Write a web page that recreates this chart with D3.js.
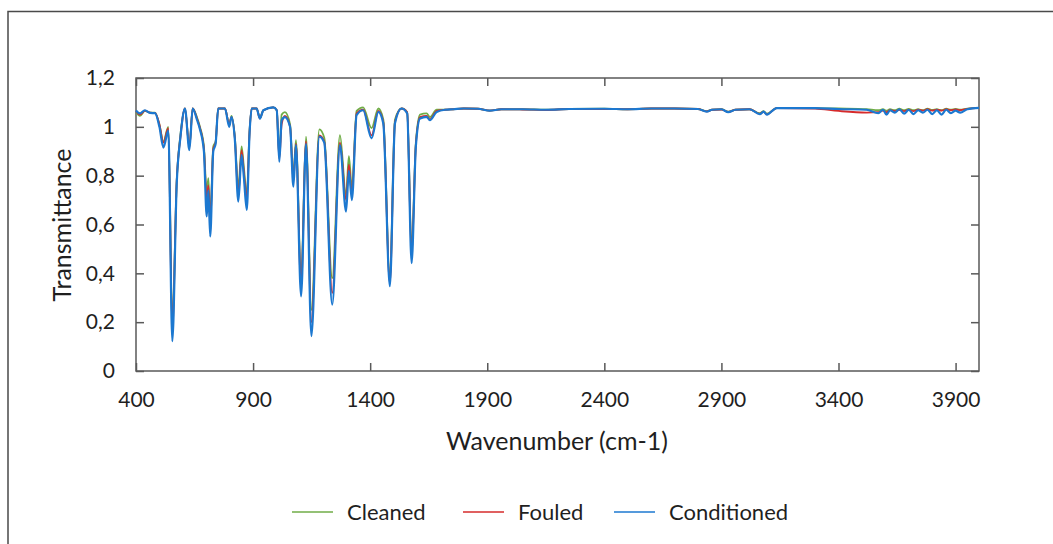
<!DOCTYPE html>
<html>
<head>
<meta charset="utf-8">
<script src="https://cdn.jsdelivr.net/npm/d3@7"></script>
<style>
  body { margin: 0; background: #fff; }
  text { font-family: Lato, "Open Sans", sans-serif; fill: #1f1f1f; }
</style>
</head>
<body>
<script>
// wavenumbers (cm-1) shared by the three spectra
var wavenumbers = [400, 417, 438, 460, 481, 500, 517, 538, 555, 574, 590, 609, 628, 642, 660, 673, 690, 702, 709, 717, 730, 740, 751, 780, 798, 808, 822, 837, 851, 861, 873, 885, 894, 915, 929, 944, 986, 1001, 1012, 1022, 1036, 1058, 1072, 1083, 1105, 1126, 1149, 1183, 1204, 1238, 1271, 1297, 1309, 1322, 1342, 1370, 1406, 1435, 1456, 1484, 1506, 1534, 1558, 1577, 1595, 1613, 1641, 1655, 1684, 1720, 1755, 1800, 1860, 1911, 1960, 2050, 2150, 2250, 2400, 2500, 2600, 2700, 2800, 2837, 2860, 2900, 2929, 2960, 3020, 3064, 3080, 3094, 3136, 3300, 3400, 3520, 3570, 3590, 3605, 3620, 3640, 3660, 3680, 3700, 3720, 3740, 3760, 3780, 3800, 3820, 3840, 3860, 3880, 3900, 3920, 3950, 4000]

var cleaned = [1.060, 1.045, 1.065, 1.058, 1.058, 1.010, 0.940, 1.000, 0.200, 0.780, 0.970, 1.075, 0.920, 1.075, 1.040, 1.000, 0.920, 0.730, 0.790, 0.620, 0.920, 0.940, 1.075, 1.075, 1.010, 1.045, 0.960, 0.750, 0.920, 0.830, 0.720, 0.985, 1.075, 1.075, 1.036, 1.068, 1.080, 1.068, 0.880, 1.050, 1.060, 1.010, 0.800, 0.945, 0.380, 0.960, 0.250, 0.990, 0.955, 0.380, 0.966, 0.720, 0.880, 0.750, 1.065, 1.080, 0.995, 1.075, 1.030, 0.380, 1.030, 1.075, 1.060, 0.500, 0.935, 1.050, 1.055, 1.040, 1.070, 1.070, 1.072, 1.075, 1.074, 1.066, 1.072, 1.072, 1.070, 1.073, 1.074, 1.072, 1.075, 1.075, 1.073, 1.064, 1.070, 1.072, 1.062, 1.070, 1.072, 1.056, 1.064, 1.054, 1.077, 1.077, 1.075, 1.072, 1.068, 1.072, 1.066, 1.072, 1.068, 1.074, 1.068, 1.073, 1.068, 1.072, 1.068, 1.074, 1.069, 1.072, 1.068, 1.074, 1.070, 1.073, 1.070, 1.075, 1.078]

var fouled = [1.065, 1.050, 1.066, 1.058, 1.057, 1.010, 0.935, 0.995, 0.170, 0.780, 0.960, 1.075, 0.915, 1.075, 1.035, 0.995, 0.910, 0.700, 0.760, 0.600, 0.910, 0.935, 1.075, 1.075, 1.010, 1.040, 0.955, 0.720, 0.905, 0.810, 0.700, 0.980, 1.075, 1.075, 1.034, 1.068, 1.080, 1.068, 0.870, 1.010, 1.045, 1.000, 0.780, 0.930, 0.350, 0.940, 0.200, 0.965, 0.940, 0.320, 0.935, 0.700, 0.845, 0.720, 1.055, 1.070, 0.965, 1.065, 1.020, 0.360, 1.020, 1.075, 1.060, 0.470, 0.925, 1.040, 1.045, 1.030, 1.065, 1.070, 1.072, 1.075, 1.074, 1.066, 1.072, 1.071, 1.069, 1.073, 1.073, 1.072, 1.075, 1.075, 1.073, 1.063, 1.070, 1.071, 1.061, 1.070, 1.072, 1.053, 1.062, 1.051, 1.077, 1.075, 1.065, 1.058, 1.060, 1.066, 1.060, 1.068, 1.064, 1.070, 1.064, 1.070, 1.064, 1.070, 1.066, 1.072, 1.066, 1.070, 1.066, 1.072, 1.068, 1.071, 1.068, 1.074, 1.078]

var conditioned = [1.067, 1.055, 1.068, 1.057, 1.056, 1.000, 0.915, 0.985, 0.122, 0.770, 0.960, 1.075, 0.905, 1.075, 1.030, 0.990, 0.900, 0.633, 0.740, 0.551, 0.900, 0.930, 1.075, 1.075, 1.000, 1.040, 0.950, 0.694, 0.885, 0.790, 0.660, 0.975, 1.075, 1.075, 1.034, 1.068, 1.080, 1.068, 0.857, 1.027, 1.040, 1.000, 0.755, 0.925, 0.306, 0.930, 0.143, 0.960, 0.935, 0.272, 0.925, 0.653, 0.820, 0.700, 1.048, 1.068, 0.953, 1.061, 1.014, 0.347, 1.015, 1.075, 1.055, 0.442, 0.918, 1.034, 1.041, 1.027, 1.061, 1.070, 1.072, 1.075, 1.074, 1.066, 1.072, 1.072, 1.070, 1.073, 1.074, 1.072, 1.075, 1.075, 1.073, 1.062, 1.070, 1.072, 1.060, 1.070, 1.072, 1.052, 1.062, 1.050, 1.077, 1.077, 1.073, 1.070, 1.056, 1.070, 1.050, 1.068, 1.058, 1.072, 1.054, 1.070, 1.052, 1.068, 1.058, 1.070, 1.052, 1.068, 1.050, 1.070, 1.056, 1.066, 1.058, 1.072, 1.078]

var seriesNames = ['Cleaned', 'Fouled', 'Conditioned']
var seriesColors = ['#70ad47', '#d62b2b', '#1c78d0']
var xTicks = [400, 900, 1400, 1900, 2400, 2900, 3400, 3900]
var yTicks = [0, 0.2, 0.4, 0.6, 0.8, 1, 1.2]

var W = 1053, H = 544
var plot = { left: 136, right: 979, top: 78, bottom: 371 }

var svg = d3.select('body').append('svg')
    .attr('width', W)
    .attr('height', H)

// outer chart frame (runs off the right and bottom of the window)
svg.append('rect')
    .attr('x', 8).attr('y', 11.5)
    .attr('width', W + 20).attr('height', H + 20)
    .attr('fill', 'none')
    .attr('stroke', '#4a4a4a')
    .attr('stroke-width', 1.5)

var x = d3.scaleLinear().domain([400, 4000]).range([plot.left, plot.right])
var y = d3.scaleLinear().domain([0, 1.2]).range([plot.bottom, plot.top])

var fmt = function (d) { return String(d).replace('.', ',') }

var tickLen = 8
var axisColor = '#595959'

// plot box
svg.append('rect')
    .attr('x', plot.left).attr('y', plot.top)
    .attr('width', plot.right - plot.left).attr('height', plot.bottom - plot.top)
    .attr('fill', 'none')
    .attr('stroke', axisColor)
    .attr('stroke-width', 1.5)

function styleAxis(g) {
    g.select('.domain').remove()
    g.selectAll('.tick line').attr('stroke', axisColor).attr('stroke-width', 1.5)
    g.selectAll('.tick text')
        .style('font-family', 'Lato, "Open Sans", sans-serif')
        .style('font-size', '21px')
        .attr('fill', '#1f1f1f')
}

svg.append('g')
    .attr('transform', 'translate(0,' + plot.bottom + ')')
    .call(d3.axisBottom(x).tickValues(xTicks).tickSizeInner(-tickLen).tickSizeOuter(0).tickPadding(tickLen + 13).tickFormat(fmt))
    .call(styleAxis)

svg.append('g')
    .attr('transform', 'translate(0,' + plot.top + ')')
    .call(d3.axisTop(x).tickValues(xTicks).tickSizeInner(-tickLen).tickSizeOuter(0).tickFormat(''))
    .call(styleAxis)

svg.append('g')
    .attr('transform', 'translate(' + plot.left + ',0)')
    .call(d3.axisLeft(y).tickValues(yTicks).tickSizeInner(-tickLen).tickSizeOuter(0).tickPadding(tickLen + 13).tickFormat(fmt))
    .call(styleAxis)

svg.append('g')
    .attr('transform', 'translate(' + plot.right + ',0)')
    .call(d3.axisRight(y).tickValues(yTicks).tickSizeInner(-tickLen).tickSizeOuter(0).tickFormat(''))
    .call(styleAxis)

// spectra
var line = d3.line()
    .x(function (d) { return x(d[0]) })
    .y(function (d) { return y(d[1]) })
    .curve(d3.curveMonotoneX)

var allSeries = [cleaned, fouled, conditioned]

svg.append('g')
    .selectAll('path')
    .data(allSeries)
    .enter().append('path')
    .attr('d', function (vals) { return line(wavenumbers.map(function (w, i) { return [w, vals[i]] })) })
    .attr('fill', 'none')
    .attr('stroke', function (d, i) { return seriesColors[i] })
    .attr('stroke-width', function (d, i) { return i === 2 ? 2.2 : 1.8 })
    .attr('stroke-linejoin', 'round')

// axis titles
svg.append('text')
    .attr('x', 557)
    .attr('y', 450)
    .attr('text-anchor', 'middle')
    .style('font-size', '25px')
    .text('Wavenumber (cm-1)')

svg.append('text')
    .attr('transform', 'translate(71,225) rotate(-90)')
    .attr('text-anchor', 'middle')
    .style('font-size', '25px')
    .text('Transmittance')

// legend
var legendX = [292, 463, 614]
var legend = svg.append('g')
    .selectAll('g')
    .data(seriesNames)
    .enter().append('g')
    .attr('transform', function (d, i) { return 'translate(' + legendX[i] + ',512)' })

legend.append('line')
    .attr('x1', 0).attr('x2', 41)
    .attr('stroke', function (d, i) { return seriesColors[i] })
    .attr('stroke-width', 1.5)

legend.append('text')
    .attr('x', 55)
    .attr('dy', '0.35em')
    .style('font-size', '22px')
    .text(function (d) { return d })
</script>
</body>
</html>
